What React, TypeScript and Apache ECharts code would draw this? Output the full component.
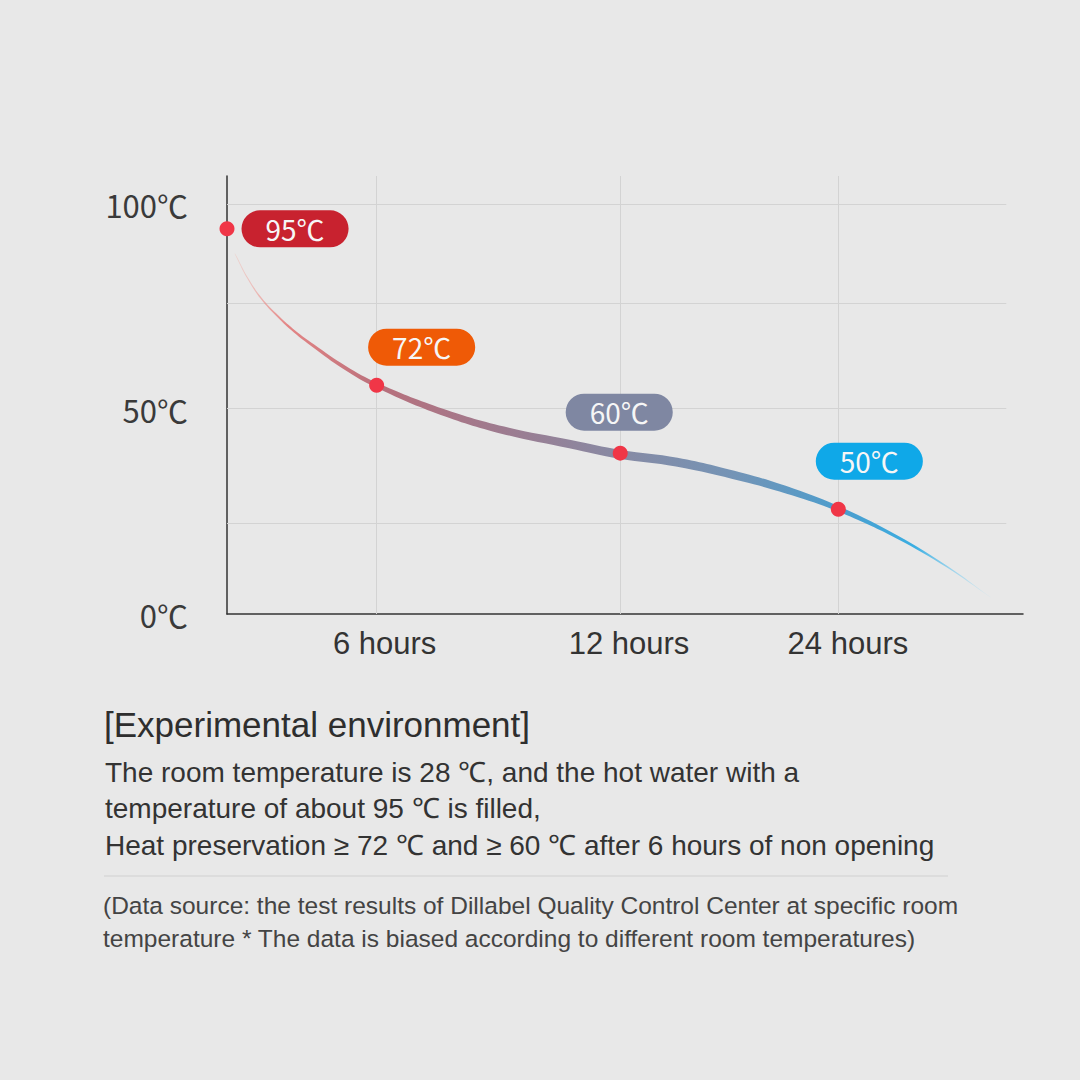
import React, { useEffect, useRef } from "react";
import * as echarts from "echarts";

// ---- data ----
const yTickValues = [0, 50, 100];
const timeLabels = ["6 hours", "12 hours", "24 hours"];
const timeLabelPos = [19.8, 50.5, 78.0];
const checkpointX = [0, 18.8, 49.4, 76.8];
const checkpointTemp = [94.1, 55.9, 39.3, 25.6];
const checkpointLabels = ["95℃", "72℃", "60℃", "50℃"];
const checkpointColors = ["#c8222f", "#ef5a06", "#7f87a2", "#0fa8e8"];
const curveX = [1.0, 2.6, 4.3, 6.4, 8.5, 10.8, 14.8, 18.8, 26.4, 34.7, 43.1, 49.4, 56.5, 64.8, 71.1, 76.9, 84.2, 90.5, 95.9];
const curveY = [88.0, 82.0, 77.1, 72.7, 69.0, 65.6, 60.2, 55.9, 49.8, 44.9, 41.5, 39.0, 37.1, 33.4, 29.8, 25.6, 18.8, 11.5, 4.1];
const curveThickness = [0.5, 1.0, 1.5, 2.0, 2.4, 2.9, 3.8, 4.6, 6.4, 7.6, 8.6, 9.0, 9.0, 8.2, 6.8, 5.2, 3.2, 1.6, 0.3];
const gridYValues = [22.2, 50.2, 75.9, 100];
const gridXValues = [18.8, 49.4, 76.8];

const textTitle = "[Experimental environment]";
const textLines = [
  "The room temperature is 28 ℃, and the hot water with a",
  "temperature of about 95 ℃ is filled,",
  "Heat preservation ≥ 72 ℃ and ≥ 60 ℃ after 6 hours of non opening",
];
const noteLines = [
  "(Data source: the test results of Dillabel Quality Control Center at specific room",
  "temperature * The data is biased according to different room temperatures)",
];

export default function App() {
  const ref = useRef<HTMLDivElement>(null);
  useEffect(() => {
    if (!ref.current) return;
    const chart = echarts.init(ref.current, null, { renderer: "svg" });
    const labelOffsets = [[0, 0], [45, -38], [-1, -41], [31, -48]];
    const scatterData = checkpointX.map((x, i) => ({
      value: [x, checkpointTemp[i]],
      label: {
        show: true,
        formatter: checkpointLabels[i],
        position: i === 0 ? "right" : "inside",
        distance: 7,
        offset: labelOffsets[i],
        backgroundColor: checkpointColors[i],
        borderRadius: 19,
        padding: [5, 24, 4, 24],
        color: "#f6f6f6",
        fontSize: 28,
        lineHeight: 28,
        fontFamily: "Noto Sans CJK SC",
      },
    }));
    const hLines = gridYValues.map((v) => [
      { coord: [0, v] },
      { coord: [97.9, v] },
    ]);
    const vLines = gridXValues.map((v) => [
      { coord: [v, 0] },
      { coord: [v, 107] },
    ]);
    const ribbonGradient = new echarts.graphic.LinearGradient(0, 0, 1, 0, [
      { offset: 0, color: "rgba(245,170,160,0.35)" },
      { offset: 0.07, color: "rgba(226,115,115,0.85)" },
      { offset: 0.19, color: "#b8707c" },
      { offset: 0.35, color: "#9e7b8f" },
      { offset: 0.51, color: "#878aa4" },
      { offset: 0.66, color: "#7494b6" },
      { offset: 0.8, color: "#4c9dcd" },
      { offset: 0.9, color: "#3aaee2" },
      { offset: 1, color: "rgba(170,225,248,0.25)" },
    ]);
    const textFont = "Liberation Sans";
    const graphicEls: any[] = [
      {
        type: "text",
        x: 104,
        y: 724,
        style: {
          text: textTitle,
          font: `35px "${textFont}"`,
          fill: "#2e2e2e",
          textVerticalAlign: "middle",
          verticalAlign: "middle",
        },
      },
      ...textLines.map((t, i) => ({
        type: "text",
        x: 105,
        y: 772 + i * 36.5,
        style: {
          text: t,
          font: `28px "${textFont}"`,
          fill: "#333",
          textVerticalAlign: "middle",
          verticalAlign: "middle",
        },
      })),
      {
        type: "line",
        shape: { x1: 104, y1: 876, x2: 948, y2: 876 },
        style: { stroke: "#d9d9d9", lineWidth: 1.5 },
      },
      ...noteLines.map((t, i) => ({
        type: "text",
        x: 103,
        y: 905 + i * 33,
        style: {
          text: t,
          font: `24.5px "${textFont}"`,
          fill: "#444",
          textVerticalAlign: "middle",
          verticalAlign: "middle",
        },
      })),
    ];

    chart.setOption({
      animation: false,
      backgroundColor: "#e8e8e8",
      grid: { left: 227, right: 57, top: 176, bottom: 466 },
      xAxis: {
        type: "value",
        min: 0,
        max: 100,
        axisLine: { show: true, lineStyle: { color: "#333", width: 1.5 } },
        axisTick: { show: false },
        splitLine: { show: false },
        axisLabel: {
          customValues: timeLabelPos,
          margin: 14,
          fontSize: 31,
          color: "#333",
          fontFamily: "Liberation Sans",
          formatter: (v: number) => {
            let best = 0;
            timeLabelPos.forEach((p, i) => {
              if (Math.abs(p - v) < Math.abs(timeLabelPos[best] - v)) best = i;
            });
            return Math.abs(timeLabelPos[best] - v) < 0.5 ? timeLabels[best] : "";
          },
        },
      },
      yAxis: {
        type: "value",
        min: 0,
        max: 107,
        interval: 50,
        axisLine: { show: true, lineStyle: { color: "#333", width: 1.5 } },
        axisTick: { show: false },
        splitLine: { show: false },
        axisLabel: {
          margin: 39,
          fontSize: 31,
          color: "#3a3a3a",
          fontFamily: "Noto Sans CJK SC",
          formatter: (v: number) => (yTickValues.includes(v) ? `${v}℃` : ""),
        },
      },
      series: [
        {
          type: "custom",
          silent: true,
          z: 3,
          data: [[curveX[0], curveY[0]]],
          renderItem: (params: any, api: any) => {
            const pts = curveX.map((x, i) => api.coord([x, curveY[i]]));
            const top: number[][] = [];
            const bottom: number[][] = [];
            for (let i = 0; i < pts.length; i++) {
              const a = pts[Math.max(0, i - 1)];
              const b = pts[Math.min(pts.length - 1, i + 1)];
              const dx = b[0] - a[0];
              const dy = b[1] - a[1];
              const len = Math.hypot(dx, dy) || 1;
              const nx = -dy / len;
              const ny = dx / len;
              const h = curveThickness[i] / 2;
              top.push([pts[i][0] + nx * h, pts[i][1] + ny * h]);
              bottom.push([pts[i][0] - nx * h, pts[i][1] - ny * h]);
            }
            return {
              type: "polygon",
              shape: { points: top.concat(bottom.reverse()), smooth: 0.4 },
              style: { fill: ribbonGradient },
            };
          },
          markLine: {
            silent: true,
            symbol: "none",
            label: { show: false },
            lineStyle: { color: "#d3d3d3", width: 1, type: "solid" },
            z: 1,
            data: [...hLines, ...vLines],
          },
        },
        {
          type: "scatter",
          z: 5,
          symbolSize: 15,
          itemStyle: { color: "#f03647", opacity: 1 },
          data: scatterData,
        },
      ],
      graphic: graphicEls,
    });
    return () => chart.dispose();
  }, []);
  return (
    <div
      ref={ref}
      style={{ position: "fixed", left: 0, top: 0, width: 1080, height: 1080 }}
    />
  );
}
